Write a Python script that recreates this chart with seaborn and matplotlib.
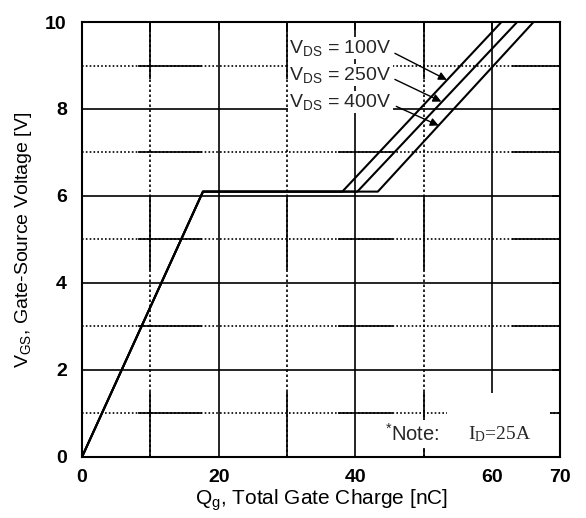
import numpy as np
import pandas as pd
import seaborn as sns
import matplotlib
matplotlib.use("Agg")
import matplotlib.pyplot as plt
from matplotlib import font_manager as fm
from matplotlib.patches import Rectangle

# ---------------- data ----------------
vds_labels = ["100V", "250V", "400V"]
qg_100 = [0.0, 17.7, 38.1, 61.4]
qg_250 = [0.0, 17.7, 40.3, 63.7]
qg_400 = [0.0, 17.7, 43.3, 66.1]
vgs_100 = [0.0, 6.1, 6.1, 10.0]
vgs_250 = [0.0, 6.1, 6.1, 10.0]
vgs_400 = [0.0, 6.1, 6.1, 10.0]
x_ticks = [0, 10, 20, 30, 40, 50, 60, 70]
x_tick_labels = ["0", "", "20", "", "40", "", "60", "70"]
y_ticks = [0, 2, 4, 6, 8, 10]
y_tick_labels = ["0", "2", "4", "6", "8", "10"]
note_text = "Note:"
id_text = "I$_{D}$=25A"

df = pd.concat([
    pd.DataFrame({"Qg": qg_100, "Vgs": vgs_100, "VDS": vds_labels[0]}),
    pd.DataFrame({"Qg": qg_250, "Vgs": vgs_250, "VDS": vds_labels[1]}),
    pd.DataFrame({"Qg": qg_400, "Vgs": vgs_400, "VDS": vds_labels[2]}),
], ignore_index=True)

# ---------------- style ----------------
sns.set_theme(style="white")
names = {f.name for f in fm.fontManager.ttflist}
narrow = "Liberation Sans Narrow" if "Liberation Sans Narrow" in names else "Liberation Sans"
plt.rcParams["font.family"] = ["Liberation Sans", "DejaVu Sans"]
plt.rcParams["mathtext.default"] = "regular"

fig = plt.figure(figsize=(5.86, 5.18), dpi=100)
ax = fig.add_axes([0.140, 0.118, 0.816, 0.8395])

# ---------------- grid ----------------
gkw = dict(color="black", lw=1.2, zorder=0.5)
ax.vlines([20, 40, 60], 0, 10, **gkw)
ax.hlines([2, 4, 6, 8], 0, 70, **gkw)
# minor lines: dotted with solid segments (scan-like grid)
ax.vlines([10, 30, 50], 0, 10, colors="black", lw=1.2,
          linestyles=[(0, (1.5, 1.5))], zorder=0.6)
for yv in [1, 3, 5, 7, 9]:
    ax.axhline(yv, color="black", lw=1.2, ls=(0, (1.0, 1.3)), zorder=0.6)
for yr in [(0, 1.5), (4.3, 6.0), (8.7, 10)]:
    ax.vlines([10, 30, 50], yr[0], yr[1], **gkw)
for xr in [(8.2, 17.5), (37.5, 45.5), (63, 70)]:
    ax.hlines([1, 3, 5, 7, 9], xr[0], xr[1], **gkw)

# ---------------- curves ----------------
sns.lineplot(data=df, x="Qg", y="Vgs", hue="VDS", palette=["black"] * 3,
             sort=False, estimator=None, legend=False, lw=1.5, ax=ax, zorder=2)

ax.set_xlim(0, 70)
ax.set_ylim(0, 10)
ax.set_xticks(x_ticks)
ax.set_xticklabels(x_tick_labels)
ax.set_yticks(y_ticks)
ax.set_yticklabels(y_tick_labels)
ax.tick_params(direction="in", length=6, width=1.2, top=True, right=True,
               labelsize=14, colors="black")
ax.tick_params(axis="x", pad=9)
ax.tick_params(axis="y", pad=11)
for lab in ax.get_xticklabels() + ax.get_yticklabels():
    lab.set_fontweight("bold")
for sp in ax.spines.values():
    sp.set_color("black")
    sp.set_linewidth(1.5)
    sp.set_zorder(5)

ax.set_xlabel("Q$_{g}$, Total Gate Charge [nC]", fontsize=15, color="black", labelpad=1)
ax.set_ylabel("V$_{GS}$, Gate-Source Voltage [V]", fontsize=14, color="black", labelpad=8)

# ---------------- annotations ----------------
label_y = [9.40, 8.78, 8.16]
arrow_start = [(45.8, 9.28), (45.8, 8.68), (46.0, 8.06)]
arrow_tip = [(53.4, 8.67), (52.6, 8.17), (52.2, 7.62)]
for lab, ly, st, tp in zip(vds_labels, label_y, arrow_start, arrow_tip):
    ax.text(30.3, ly, "V$_{DS}$ = " + lab, fontsize=14, family=[narrow, "DejaVu Sans"],
            va="center", ha="left", zorder=3,
            bbox=dict(fc="white", ec="none", pad=1.0))
    ax.annotate("", xy=tp, xytext=st, zorder=4,
                arrowprops=dict(arrowstyle="-|>", color="black", lw=1.0,
                                mutation_scale=12, shrinkA=0, shrinkB=0))

ax.add_patch(Rectangle((53.4, 0.03), 15.1, 1.44, fc="white", ec="none", zorder=1.5))
ax.text(44.4, 0.52, "$^{*}$" + note_text, fontsize=14.5, va="center", ha="left", zorder=3,
        bbox=dict(fc="white", ec="none", pad=2.0))
ax.text(56.5, 0.53, id_text, fontsize=14, family=["Liberation Serif", "DejaVu Serif"],
        va="center", ha="left", zorder=3)

fig.savefig("out.png", dpi=100, facecolor="white")
